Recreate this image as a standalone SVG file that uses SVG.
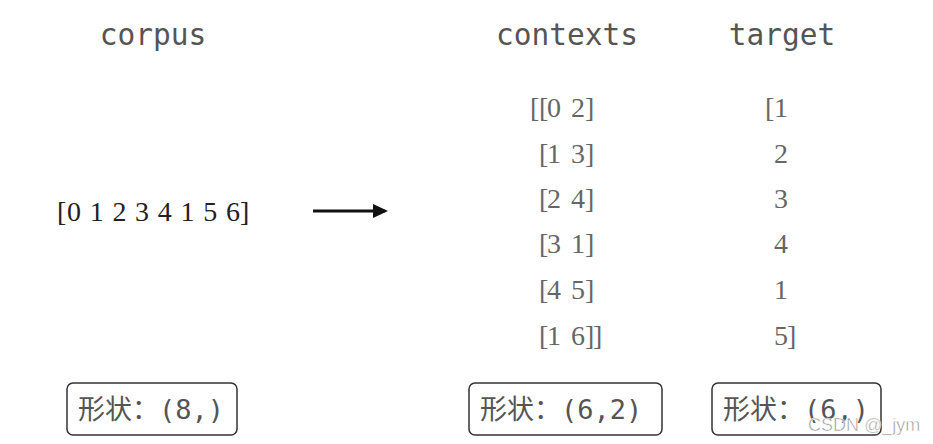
<svg xmlns="http://www.w3.org/2000/svg" width="933" height="444" viewBox="0 0 933 444">
<style>
.hdr{font-family:"DejaVu Sans Mono","Liberation Mono",monospace;font-size:29.5px;fill:#555}
.math{font-family:"Liberation Serif","DejaVu Serif",serif;font-size:28px;fill:#666}
.dark{fill:#222}
.box{fill:#fff;stroke:#333;stroke-width:1.5}
.cjk{font-family:"Noto Sans CJK SC",sans-serif;font-size:27px;fill:#555}
.mono{font-family:"DejaVu Sans Mono",monospace;font-size:27px;fill:#555}
</style>
<defs>
<marker id="ah" markerWidth="15" markerHeight="14" refX="12" refY="7" orient="auto" markerUnits="userSpaceOnUse">
<path d="M0,0 L15,7 L0,14 Z" fill="#111"/>
</marker>
</defs>
<rect width="933" height="444" fill="#fff"/>
<g id="corpus">
<text class="hdr" x="153" y="45" text-anchor="middle">corpus</text>
<text class="math dark" x="57 67 89.7 112.4 135.1 157.8 180.5 203.2 225.9 240" y="221">[01234156]</text>
</g>
<g id="contexts">
<text class="hdr" x="567" y="45" text-anchor="middle">contexts</text>
<text class="math" x="530 539 547 571 585" y="117">[[02]</text>
<text class="math" x="539 547 571 585" y="163">[13]</text>
<text class="math" x="539 547 571 585" y="208">[24]</text>
<text class="math" x="539 547 571 585" y="253">[31]</text>
<text class="math" x="539 547 571 585" y="299">[45]</text>
<text class="math" x="539 547 571 585 593" y="345">[16]]</text>
</g>
<g id="target">
<text class="hdr" x="782" y="45" text-anchor="middle">target</text>
<text class="math" x="765 774" y="117">[1</text>
<text class="math" x="774" y="163">2</text>
<text class="math" x="774" y="208">3</text>
<text class="math" x="774" y="253">4</text>
<text class="math" x="774" y="299">1</text>
<text class="math" x="774 787" y="345">5]</text>
</g>
<g id="connectors">
<line x1="313" y1="211" x2="385" y2="211" stroke="#111" stroke-width="3" marker-end="url(#ah)"/>
</g>
<g id="shape1">
<rect class="box" x="67" y="383" width="170" height="52" rx="6"/>
<text x="78" y="419"><tspan class="cjk">形状：</tspan><tspan class="mono">(8,)</tspan></text>
</g>
<g id="shape2">
<rect class="box" x="469" y="383" width="193" height="52" rx="6"/>
<text x="480" y="419"><tspan class="cjk">形状：</tspan><tspan class="mono">(6,2)</tspan></text>
</g>
<g id="shape3">
<rect class="box" x="712" y="383" width="169" height="52" rx="6"/>
<text x="723" y="419"><tspan class="cjk">形状：</tspan><tspan class="mono">(6,)</tspan></text>
</g>
<text x="808" y="431" font-family="Liberation Sans,sans-serif" font-size="18" fill="#999" stroke="#fff" stroke-width="0.5">CSDN @_jym</text>
</svg>
